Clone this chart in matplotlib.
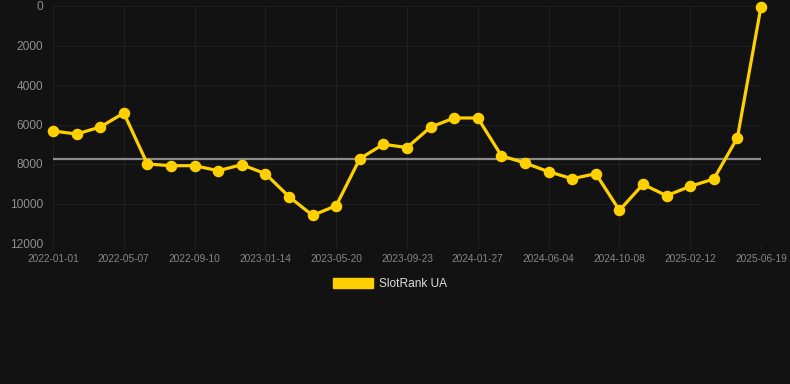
import matplotlib.pyplot as plt
from matplotlib.patches import Patch

plt.rcParams['font.family'] = ['Liberation Sans', 'DejaVu Sans']

# rank values (lower is better), one point every 6 weeks
rank = [6330, 6480, 6130, 5420, 8000, 8085, 8085, 8340, 8035, 8490,
        9655, 10600, 10110, 7730, 7000, 7170, 6130, 5670, 5670, 7580,
        7950, 8390, 8745, 8490, 10345, 9030, 9605, 9130, 8760, 6670, 30]
avg_rank = 7750
tick_labels = ["2022-01-01", "2022-05-07", "2022-09-10", "2023-01-14",
               "2023-05-20", "2023-09-23", "2024-01-27", "2024-06-04",
               "2024-10-08", "2025-02-12", "2025-06-19"]
y_ticks = [0, 2000, 4000, 6000, 8000, 10000, 12000]
series_name = "SlotRank UA"

bg = '#121212'
gold = '#FFD000'
grid_c = '#1e1e1e'

fig = plt.figure(figsize=(7.9, 3.84), dpi=100, facecolor=bg)
ax = fig.add_axes([53 / 790, 1 - 243 / 384, (761 - 53) / 790, (243 - 6) / 384])
ax.set_facecolor(bg)

x = list(range(len(rank)))
ax.plot([x[0], x[-1]], [avg_rank, avg_rank], color='#8c8c8c', lw=1.6, zorder=2)
ax.plot(x, rank, color=gold, lw=2.3, marker='o', ms=7.3, clip_on=False, zorder=3)

ax.set_xlim(0, len(rank) - 1)
ax.set_ylim(12000, 0)
ax.set_xticks(x[::3])
ax.set_xticklabels(tick_labels)
ax.set_yticks(y_ticks)
ax.grid(True, color=grid_c, lw=0.8)
for s in ax.spines.values():
    s.set_visible(False)
ax.tick_params(axis='x', colors=grid_c, labelcolor='#868686', labelsize=7.3,
               length=4, pad=4)
ax.tick_params(axis='y', labelcolor='#8f8f8f', labelsize=8.6, length=0, pad=7)

fig.legend(handles=[Patch(color=gold, label=series_name)], loc='center',
           bbox_to_anchor=(390 / 790, 1 - 284 / 384), frameon=False,
           fontsize=8.6, labelcolor='#dddddd', handlelength=3.4,
           handleheight=0.95, handletextpad=0.5)

fig.savefig('out.png', dpi=100, facecolor=bg)
